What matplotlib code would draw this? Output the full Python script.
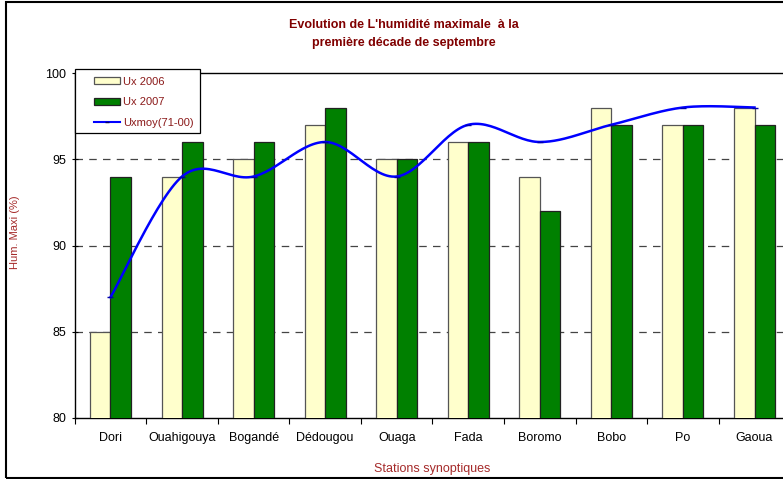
import matplotlib
matplotlib.use('Agg')
import matplotlib.pyplot as plt
from matplotlib.patches import Rectangle
import numpy as np

# Data
stations = ['Dori', 'Ouahigouya', 'Bogandé', 'Dédougou', 'Ouaga',
            'Fada', 'Boromo', 'Bobo', 'Po', 'Gaoua']
ux_2006 = [85, 94, 95, 97, 95, 96, 94, 98, 97, 98]
ux_2007 = [94, 96, 96, 98, 95, 96, 92, 97, 97, 97]
ux_moy = [87, 94, 94, 96, 94, 97, 96, 97, 98, 98]

plt.rcParams['font.family'] = ['Liberation Sans', 'DejaVu Sans']

dark_red = '#8B1A1A'


def smooth_line(xs, ys, n=30):
    # Excel-style smoothed line: cubic Bezier through every point
    px = np.concatenate([[xs[0]], xs, [xs[-1]]]).astype(float)
    py = np.concatenate([[ys[0]], ys, [ys[-1]]]).astype(float)
    t = np.linspace(0, 1, n)
    out_x, out_y = [], []
    for i in range(1, len(px) - 2):
        x0, y0 = px[i], py[i]
        x3, y3 = px[i + 1], py[i + 1]
        x1 = x0 + (px[i + 1] - px[i - 1]) / 6
        y1 = y0 + (py[i + 1] - py[i - 1]) / 6
        x2 = x3 - (px[i + 2] - px[i]) / 6
        y2 = y3 - (py[i + 2] - py[i]) / 6
        bx = (1 - t)**3 * x0 + 3 * (1 - t)**2 * t * x1 + 3 * (1 - t) * t**2 * x2 + t**3 * x3
        by = (1 - t)**3 * y0 + 3 * (1 - t)**2 * t * y1 + 3 * (1 - t) * t**2 * y2 + t**3 * y3
        out_x.extend(bx)
        out_y.extend(by)
    return np.array(out_x), np.array(out_y)


fig = plt.figure(figsize=(7.83, 4.79), dpi=100)
W, H = 783, 479
ax = fig.add_axes([74.7 / W, (H - 418) / H, 715.6 / W, 345 / H])

x = np.arange(len(stations))
w = 0.286
b1 = ax.bar(x - w / 2, ux_2006, w, color='#FFFFCC', edgecolor='#555555',
            linewidth=0.9, label='Ux 2006', zorder=3)
b2 = ax.bar(x + w / 2, ux_2007, w, color='#008000', edgecolor='#222222',
            linewidth=0.9, label='Ux 2007', zorder=3)

sx, sy = smooth_line(x, ux_moy)
ax.plot(sx, sy, color='#0000FF', linewidth=1.8, zorder=4)
ax.plot(x, ux_moy, linestyle='none', marker='_', markersize=4,
        color='#0000AA', zorder=5)
# proxy for legend
l1, = ax.plot([], [], color='#0000FF', linewidth=1.5, marker='_', markersize=3,
              markeredgecolor='#000066', label='Uxmoy(71-00)')

ax.set_ylim(80, 100)
ax.set_xlim(-0.5, len(stations) - 0.5)
ax.set_yticks([80, 85, 90, 95, 100])
ax.set_xticks(x)
ax.set_xticklabels(stations, fontsize=9)
ax.set_xticks(np.arange(-0.5, len(stations), 1), minor=True)
ax.tick_params(axis='x', which='major', length=0, pad=10)
ax.tick_params(axis='x', which='minor', length=4, width=0.8, direction='out')
ax.tick_params(axis='y', length=4, width=0.8, direction='inout', labelsize=9, pad=4)

for v in [85, 90, 95]:
    ax.axhline(v, color='#444444', linestyle=(0, (6, 5)), linewidth=0.9, zorder=1)

for side in ['left', 'bottom', 'top']:
    ax.spines[side].set_color('black')
    ax.spines[side].set_linewidth(1.0)
ax.spines['right'].set_visible(False)

ax.set_xlabel('Stations synoptiques', color='#A52A2A', fontsize=9, labelpad=14)
fig.text(15 / W, 1 - 232 / H, 'Hum. Maxi (%)', color='#A52A2A', fontsize=8,
         rotation=90, ha='center', va='center')

fig.text(404 / W, 1 - 25 / H,
         "Evolution de L'humidité maximale  à la", color='#800000',
         fontsize=9, fontweight='bold', ha='center', va='center')
fig.text(404 / W, 1 - 43 / H,
         'première décade de septembre', color='#800000',
         fontsize=9, fontweight='bold', ha='center', va='center')

# legend box drawn separately so the entries can sit indented inside it
ax.add_patch(Rectangle((75 / W, 1 - 133 / H), 125 / W, 64 / H,
                       transform=fig.transFigure, facecolor='white',
                       edgecolor='black', linewidth=0.9, zorder=6,
                       clip_on=False))
leg = ax.legend(handles=[b1, b2, l1], loc='upper left',
                bbox_to_anchor=(91 / W, 1 - 73.5 / H),
                bbox_transform=fig.transFigure, frameon=False,
                fontsize=8, handlelength=2.3, handleheight=0.6,
                labelspacing=0.95, borderpad=0.3, handletextpad=0.25,
                borderaxespad=0)
leg.set_zorder(7)
for txt in leg.get_texts():
    txt.set_color(dark_red)

# outer chart border
fig.patches.append(Rectangle((6 / W, 1.5 / H), 1.2, 1 - 3 / H,
                             transform=fig.transFigure, fill=False,
                             edgecolor='black', linewidth=1.5))

fig.savefig('out.png', dpi=100)
